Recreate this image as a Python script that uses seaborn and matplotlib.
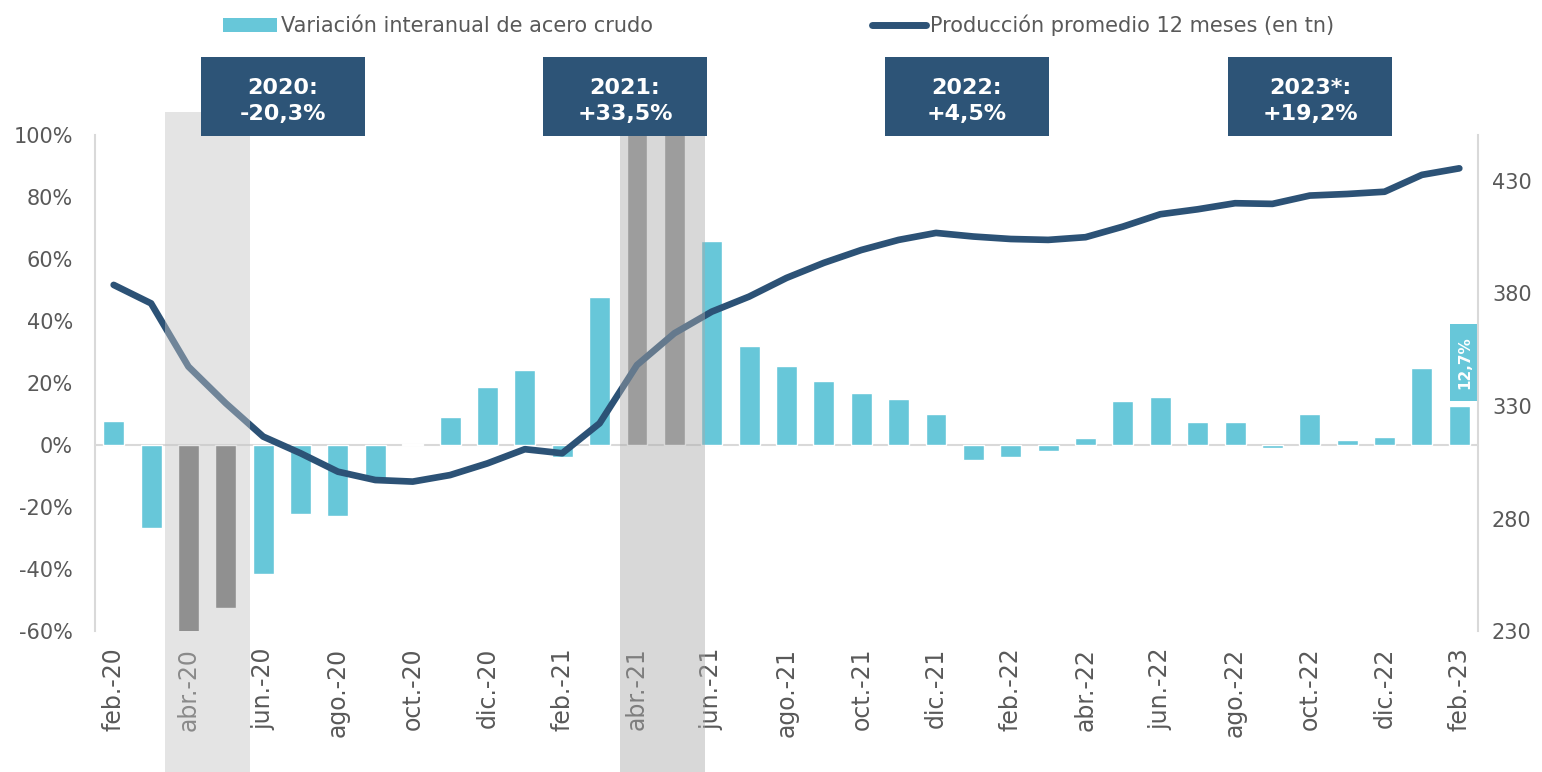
import numpy as np
import pandas as pd
import matplotlib
matplotlib.use('Agg')
import matplotlib.pyplot as plt
import matplotlib.transforms as mtransforms
from matplotlib.patches import Rectangle, Patch
from matplotlib.lines import Line2D
from matplotlib.ticker import FuncFormatter, FixedLocator
import seaborn as sns

# ─── datos ───
meses = ['feb.-20', 'mar.-20', 'abr.-20', 'may.-20', 'jun.-20', 'jul.-20', 'ago.-20',
         'sep.-20', 'oct.-20', 'nov.-20', 'dic.-20', 'ene.-21', 'feb.-21', 'mar.-21',
         'abr.-21', 'may.-21', 'jun.-21', 'jul.-21', 'ago.-21', 'sep.-21', 'oct.-21',
         'nov.-21', 'dic.-21', 'ene.-22', 'feb.-22', 'mar.-22', 'abr.-22', 'may.-22',
         'jun.-22', 'jul.-22', 'ago.-22', 'sep.-22', 'oct.-22', 'nov.-22', 'dic.-22',
         'ene.-23', 'feb.-23']

# variación interanual de acero crudo (%)
variacion = [7.7, -26.9, -61.0, -52.5, -41.5, -22.4, -22.9, -11.5, 0.2, 9.0, 18.7, 24.1,
             -3.9, 47.7, 160.0, 115.0, 65.8, 31.8, 25.6, 20.6, 16.9, 15.0, 10.1, -4.7,
             -3.8, -1.8, 2.2, 14.1, 15.6, 7.3, 7.4, -0.9, 9.9, 1.6, 2.5, 24.7, 12.7]

# producción promedio 12 meses (miles de tn)
produccion = [383.8, 375.6, 347.5, 331.2, 316.4, 309.0, 300.8, 297.1, 296.4, 299.3,
              304.5, 310.8, 309.0, 322.3, 348.2, 362.3, 371.9, 378.6, 386.9, 393.6,
              399.3, 403.8, 406.9, 405.3, 404.2, 403.8, 405.0, 409.7, 415.2, 417.4,
              420.1, 419.8, 423.5, 424.2, 425.2, 432.7, 435.6]

# meses con comparación distorsionada por la cuarentena
cuarentena_2020 = ['abr.-20', 'may.-20']
cuarentena_2021 = ['abr.-21', 'may.-21']

anios = ['2020:\n-20,3%', '2021:\n+33,5%', '2022:\n+4,5%', '2023*:\n+19,2%']
etiqueta_ultimo = '12,7%'

# ─── estilo ───
sns.set_style('white')
plt.rcParams['font.family'] = ['DejaVu Sans']
plt.rcParams['axes.unicode_minus'] = False

CIAN = '#67c7d9'
AZUL = '#2c5276'
CAJA = '#2d5477'
GRIS_TXT = '#595959'
GRIS_EJE = '#d9d9d9'

grupo = ['c20' if m in cuarentena_2020 else 'c21' if m in cuarentena_2021 else 'normal'
         for m in meses]
df = pd.DataFrame({'mes': meses, 'variacion': variacion, 'grupo': grupo,
                   'pos': np.arange(len(meses)), 'produccion': produccion})

fig = plt.figure(figsize=(15.42, 7.72), dpi=100)
ax = fig.add_axes([0.0616, 0.1826, 0.8969, 0.6425])

sns.barplot(data=df, x='mes', y='variacion', hue='grupo', dodge=False, width=0.56,
            palette={'normal': CIAN, 'c20': '#666666', 'c21': '#949494'},
            saturation=1, legend=False, ax=ax, zorder=2)

ax.set_ylim(-60, 100)
ax.set_xlim(-0.5, len(meses) - 0.5)
ax.yaxis.set_major_locator(FixedLocator(np.arange(-60, 101, 20)))
ax.yaxis.set_major_formatter(FuncFormatter(lambda v, p: f'{v:.0f}%'))
ax.axhline(0, color=GRIS_EJE, lw=1.5, zorder=1)

ax.set_xticks(np.arange(len(meses)))
ax.set_xticklabels([m if i % 2 == 0 else '' for i, m in enumerate(meses)],
                   rotation=90, fontsize=17, color=GRIS_TXT)
ax.tick_params(axis='x', length=0, pad=12)
ax.tick_params(axis='y', length=0, pad=16, labelsize=15, labelcolor=GRIS_TXT)
ax.set_xlabel('')
ax.set_ylabel('')
for s in ['top', 'bottom', 'right']:
    ax.spines[s].set_visible(False)
ax.spines['left'].set_color(GRIS_EJE)
ax.spines['left'].set_linewidth(1.5)

# etiqueta del último dato
x_ult = len(meses) - 1
v_ult = variacion[-1]
ax.add_patch(Rectangle((x_ult - 0.24, v_ult + 1.5), 0.75, 24.8, facecolor=CIAN,
                       edgecolor='none', clip_on=False, zorder=6))
ax.text(x_ult + 0.135, v_ult + 13.9, etiqueta_ultimo, rotation=90, ha='center',
        va='center', color='white', fontsize=11, fontweight='bold', zorder=7)

# ─── eje secundario: producción ───
ax2 = ax.twinx()
sns.lineplot(data=df, x='pos', y='produccion', ax=ax2, color=AZUL, lw=4.8,
             solid_capstyle='round', solid_joinstyle='round', zorder=3)
ax2.set_ylim(230, 450.4)
ax2.yaxis.set_major_locator(FixedLocator([230, 280, 330, 380, 430]))
ax2.tick_params(axis='y', length=0, pad=10, labelsize=15, labelcolor=GRIS_TXT)
ax2.set_xlabel('')
ax2.set_ylabel('')
for s in ['top', 'bottom', 'left']:
    ax2.spines[s].set_visible(False)
ax2.spines['right'].set_color(GRIS_EJE)
ax2.spines['right'].set_linewidth(1.5)

# sombreado sobre los meses de cuarentena (tapa barras, línea y etiquetas)
trans = mtransforms.blended_transform_factory(ax2.transData, ax2.transAxes)
for meses_sombra, dx0, dx1, color in [(cuarentena_2020, -0.63, 0.64, '#c5c5c5'),
                                      (cuarentena_2021, -0.46, 0.82, '#aaaaaa')]:
    i0 = meses.index(meses_sombra[0])
    i1 = meses.index(meses_sombra[-1])
    ax2.add_patch(Rectangle((i0 + dx0, -0.29), (i1 + dx1) - (i0 + dx0), 1.336,
                            transform=trans, facecolor=color, alpha=0.45,
                            edgecolor='none', clip_on=False, zorder=10))

# ─── cajas con variación anual ───
W, H = 1542, 772
cajas_x = [201, 543, 885, 1228]
for x0, txt in zip(cajas_x, anios):
    fig.add_artist(Rectangle((x0 / W, 1 - 136 / H), 164 / W, 79 / H,
                             transform=fig.transFigure, facecolor=CAJA,
                             edgecolor='none', zorder=20))
    fig.text((x0 + 82) / W, 1 - 101 / H, txt, ha='center', va='center', color='white',
             fontsize=16, fontweight='bold', linespacing=1.35, zorder=21)

# ─── leyenda ───
handles = [Patch(facecolor=CIAN, edgecolor='none'),
           Line2D([0], [0], color=AZUL, lw=5, solid_capstyle='round')]
labels = ['Variación interanual de acero crudo', 'Producción promedio 12 meses (en tn)']
leg = fig.legend(handles, labels, loc='upper center', bbox_to_anchor=(0.505, 1.005),
                 ncol=2, frameon=False, fontsize=15, handlelength=2.6,
                 handletextpad=0.2, columnspacing=10.5)
for t in leg.get_texts():
    t.set_color(GRIS_TXT)

plt.savefig('out.png', dpi=100)
plt.close()
